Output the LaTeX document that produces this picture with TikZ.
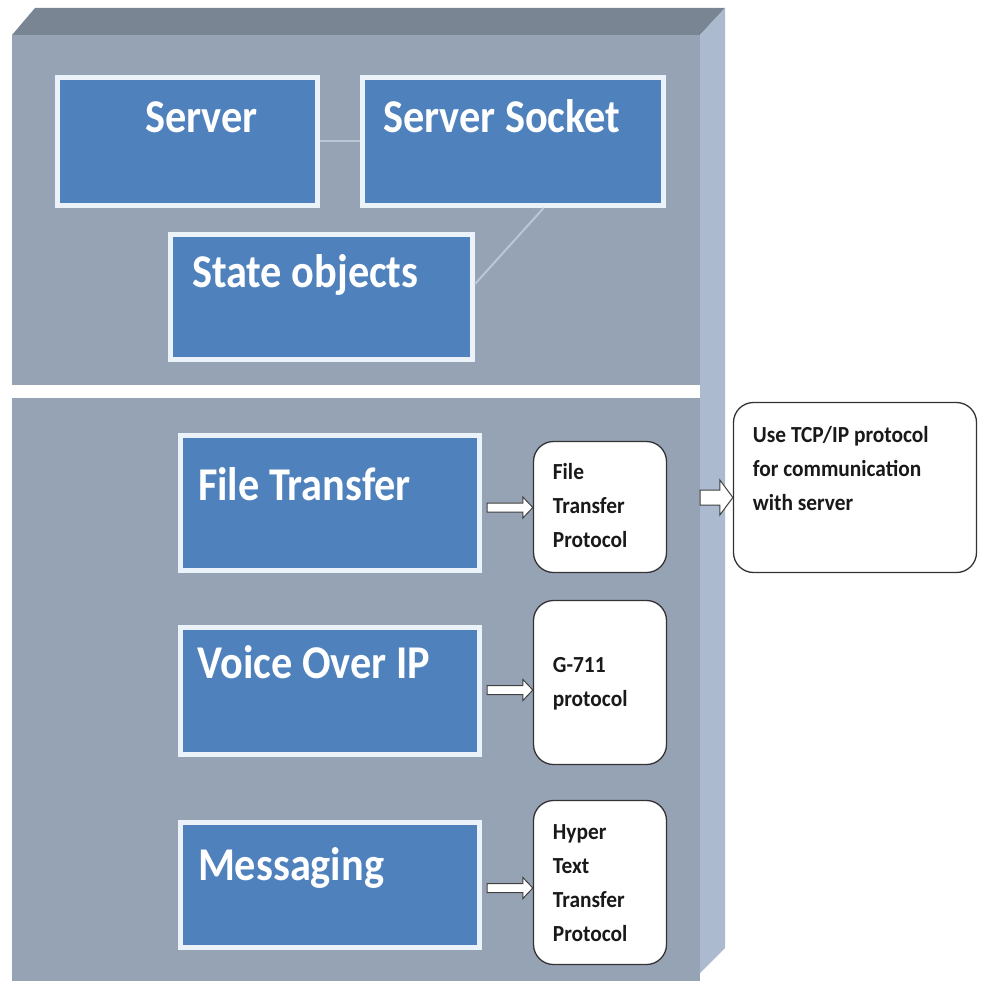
\documentclass[tikz,border=0pt]{standalone}
\usepackage{fontspec}
\newfontfamily\bigfont[FakeStretch=0.9]{Carlito}
\newfontfamily\smallfont[FakeStretch=0.93]{Carlito}
\usetikzlibrary{calc,shadows}
\definecolor{slabfront}{RGB}{150,163,181}
\definecolor{slabtop}{RGB}{122,133,148}
\definecolor{slabside}{RGB}{172,186,207}
\definecolor{boxblue}{RGB}{79,129,189}
\definecolor{boxedge}{RGB}{236,242,250}
\definecolor{linkgray}{RGB}{188,198,212}
\definecolor{notetext}{RGB}{25,25,25}
% #1 width, #2 height, #3 left inset, #4 top inset, #5 strut, #6 text
\newcommand\boxtxt[6]{\parbox[c][#2][t]{#1}{\raggedright\leftskip=#3\relax\vspace*{#4}\noindent\rule{0pt}{#5}#6}}
% #1 start, #2 end, #3 shaft half, #4 head half, #5 head length
\newcommand\blockarrow[5]{\draw[arrowline] let \p1=(#1), \p2=(#2) in
  (\x1,\y1+#3) -- (\x2-#5,\y1+#3) -- (\x2-#5,\y1+#4) -- (\x2,\y1) --
  (\x2-#5,\y1-#4) -- (\x2-#5,\y1-#3) -- (\x1,\y1-#3) -- cycle;}
\begin{document}
\begin{tikzpicture}[x=1pt,y=-1pt,
  bluebox/.style={draw=boxedge, line width=5pt, fill=boxblue, inner sep=0pt,
    text=white, font=\bigfont\bfseries\fontsize{47}{52}\selectfont,
    drop shadow={shadow xshift=1.5pt, shadow yshift=-2.5pt, opacity=0.3}},
  notebox/.style={draw=black!80, line width=1.3pt, fill=white, rounded corners=20pt,
    inner sep=0pt, text=notetext, font=\smallfont\bfseries\fontsize{23}{34}\selectfont},
  link/.style={draw=linkgray, line width=2pt},
  arrowline/.style={draw=black!75, line width=1pt, fill=white, line join=miter}]
\useasboundingbox (0,0) rectangle (981,981);
\fill[white] (0,0) rectangle (981,981);
% slab
\fill[slabfront] (12,35) -- (700,35) -- (700,981) -- (12,981) -- cycle;
\fill[slabtop] (12,35) -- (35,8) -- (725,8) -- (700,35) -- cycle;
\fill[slabside] (700,35) -- (725,8) -- (725,948) -- (700,973) -- cycle;
\fill[white] (12,385) rectangle (700,398);
% upper boxes
\node[bluebox] (server) at (187.5,141.5) {\boxtxt{260pt}{128pt}{87.5pt}{18.5pt}{37pt}{Server}};
\node[bluebox] (socket) at (513,141.5) {\boxtxt{301pt}{128pt}{20.5pt}{18.5pt}{37pt}{Server Socket}};
\node[bluebox] (state) at (321.5,297) {\boxtxt{302pt}{125pt}{21.5pt}{15.5pt}{37pt}{State objects}};
\draw[link] (server) -- (socket);
\draw[link] ($(socket.south west)!0.6!(socket.south east)$) -- ($(state.north east)!0.4!(state.south east)$);
% lower boxes
\node[bluebox] (ft) at (330,503) {\boxtxt{299pt}{135pt}{17.5pt}{27.5pt}{37pt}{File Transfer}};
\node[bluebox] (voip) at (330,691) {\boxtxt{299pt}{127pt}{17pt}{13.5pt}{37pt}{Voice Over IP}};
\node[bluebox] (msg) at (330,885) {\boxtxt{299pt}{125pt}{17.5pt}{20.5pt}{37pt}{Messaging}};
% note boxes
\node[notebox] (ftp) at (600,507) {\boxtxt{133pt}{131pt}{19.4pt}{20.4pt}{18pt}{File\\Transfer\\Protocol}};
\node[notebox] (g711) at (600,682.5) {\boxtxt{133pt}{164pt}{19.4pt}{54.4pt}{18pt}{G-711\\protocol}};
\node[notebox] (http) at (600,882.5) {\boxtxt{133pt}{164pt}{19.4pt}{21.4pt}{18pt}{Hyper\\Text\\Transfer\\Protocol}};
\node[notebox] (tcp) at (855,487.5) {\boxtxt{243pt}{170pt}{19.4pt}{22.4pt}{18pt}{Use TCP/IP protocol\\for communication\\with server}};
% arrows
\coordinate (a1) at ($(ft.east)+(5,4.5)$);
\coordinate (a2) at ($(voip.east)+(5,-1)$);
\coordinate (a3) at ($(msg.east)+(5,3)$);
\coordinate (slabedge) at (700,497.5);
\blockarrow{a1}{ftp.west |- a1}{4.5pt}{10.5pt}{10pt}
\blockarrow{a2}{g711.west |- a2}{4.5pt}{10.5pt}{10pt}
\blockarrow{a3}{http.west |- a3}{4.5pt}{10.5pt}{10pt}
\blockarrow{slabedge}{tcp.west |- slabedge}{7.5pt}{17.5pt}{13pt}
\end{tikzpicture}
\end{document}
